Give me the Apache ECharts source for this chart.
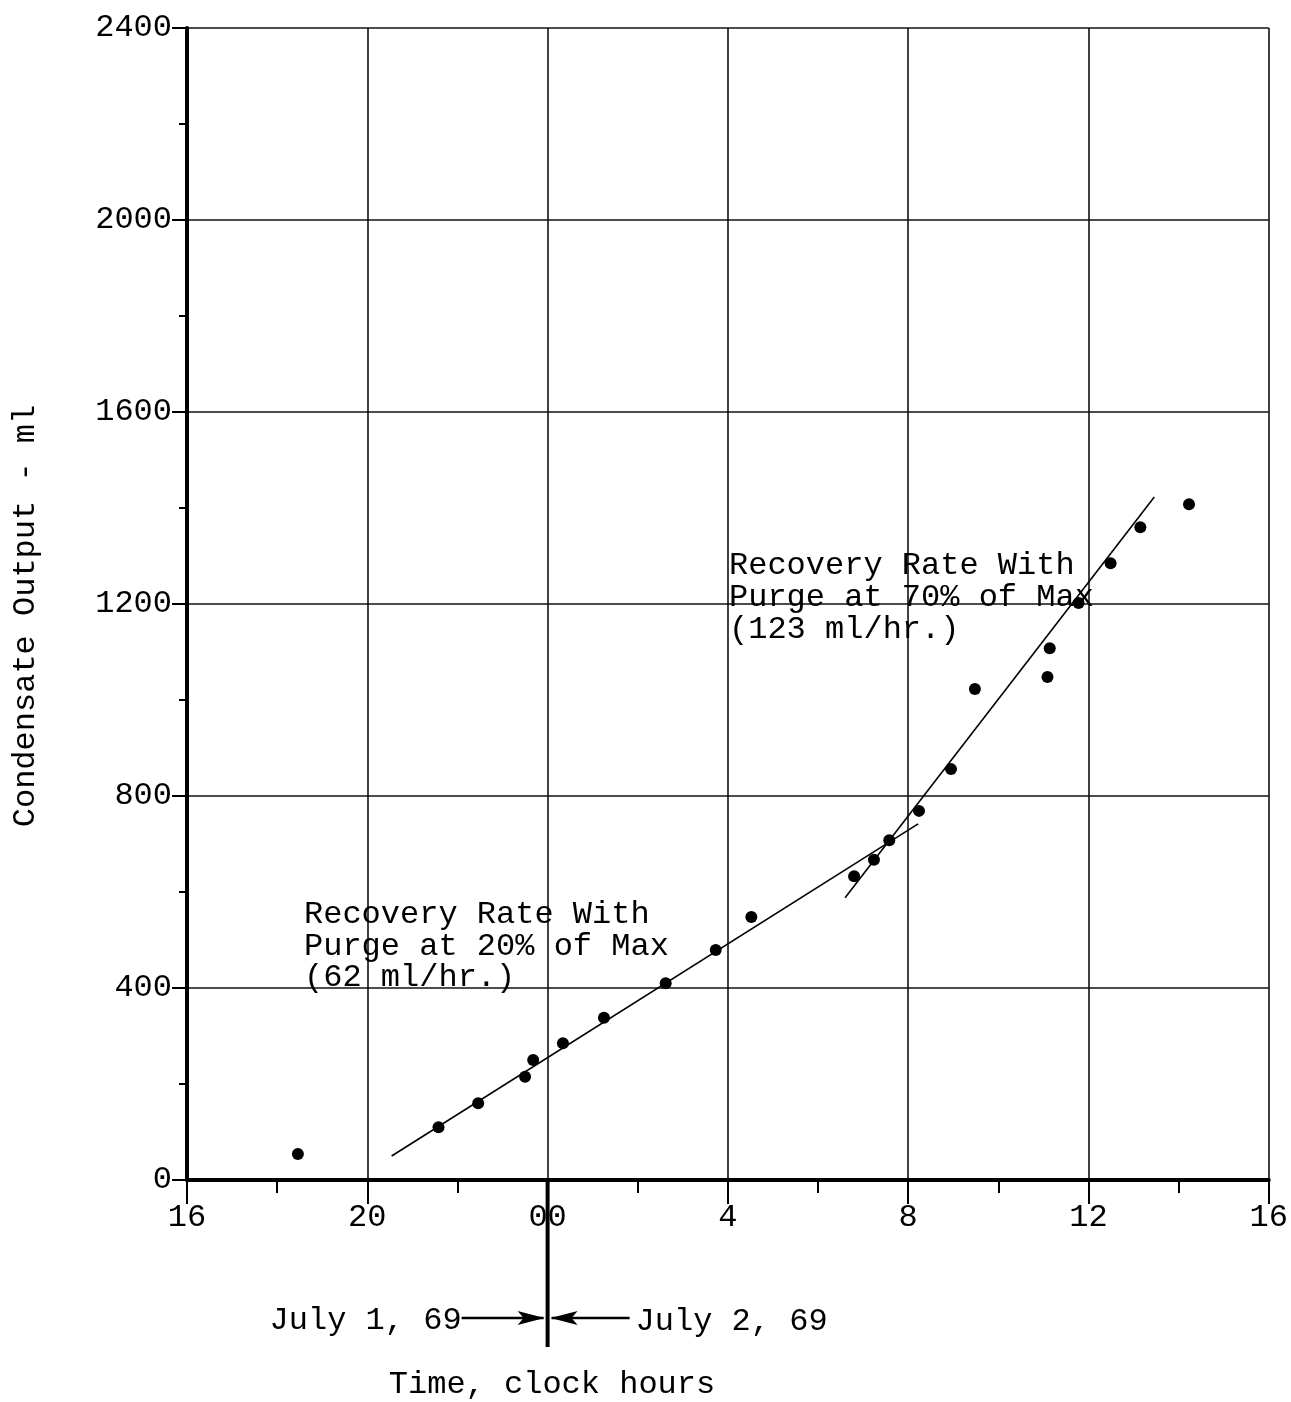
<!DOCTYPE html>
<html>
<head>
<meta charset="utf-8">
<script src="https://cdn.jsdelivr.net/npm/echarts@6/dist/echarts.min.js"></script>
<style>
html,body{margin:0;padding:0;background:#fff;}
#chart{width:1291px;height:1402px;}
</style>
</head>
<body>
<div id="chart"></div>
<script>
// ---- data (x = hours since 00:00 July 1, 1969; y = ml) ----
const hours   = [18.46, 21.58, 22.46, 23.50, 23.68, 24.34, 25.25, 26.62, 27.73, 28.52,
                 30.80, 31.24, 31.58, 32.24, 32.95, 33.48, 35.09, 35.14, 35.78, 36.49, 37.15, 38.23];
const outputs = [54, 110, 160, 215, 250, 285, 338, 410, 479, 548,
                 633, 667, 708, 769, 856, 1023, 1048, 1108, 1202, 1285, 1360, 1408];
const fit20Hours  = [20.54, 32.22];
const fit20Output = [50, 742];
const fit70Hours  = [30.60, 37.46];
const fit70Output = [588, 1423];
const xTickValues = [16, 20, 24, 28, 32, 36, 40];
const xTickLabels = ['16', '20', '00', '4', '8', '12', '16'];
const note20 = ['Recovery Rate With', 'Purge at 20% of Max', '(62 ml/hr.)'];
const note70 = ['Recovery Rate With', 'Purge at 70% of Max', '(123 ml/hr.)'];

const FONT = 'Liberation Mono';
const FS = 32;

const chart = echarts.init(document.getElementById('chart'), null, {renderer: 'canvas'});

const option = {
  animation: false,
  backgroundColor: '#fff',
  grid: {left: 187, top: 28, right: 19, bottom: 222, containLabel: false},
  xAxis: {
    type: 'value', min: 16, max: 40, interval: 4,
    axisLine: {show: true, onZero: false, lineStyle: {color: '#000', width: 4}},
    axisTick: {show: true, length: 24, lineStyle: {color: '#000', width: 2}},
    minorTick: {show: true, splitNumber: 2, length: 13, lineStyle: {color: '#000', width: 2}},
    splitLine: {show: true, lineStyle: {color: '#111', width: 1.6}},
    axisLabel: {
      margin: 22, color: '#000', fontFamily: FONT, fontSize: FS,
      formatter: function (v) {
        const i = xTickValues.indexOf(Math.round(v));
        return i >= 0 ? xTickLabels[i] : '';
      }
    }
  },
  yAxis: {
    type: 'value', min: 0, max: 2400, interval: 400,
    axisLine: {show: true, onZero: false, lineStyle: {color: '#000', width: 4}},
    axisTick: {show: true, length: 15, lineStyle: {color: '#000', width: 2}},
    minorTick: {show: true, splitNumber: 2, length: 8, lineStyle: {color: '#000', width: 2}},
    splitLine: {show: true, lineStyle: {color: '#111', width: 1.6}},
    axisLabel: {margin: 15, color: '#000', fontFamily: FONT, fontSize: FS,
      formatter: function (v) { return String(Math.round(v)); }}
  },
  series: [
    {
      type: 'line', name: 'fit20', data: fit20Hours.map((h, i) => [h, fit20Output[i]]),
      showSymbol: false, symbol: 'none', lineStyle: {color: '#000', width: 1.6}, z: 3
    },
    {
      type: 'line', name: 'fit70', data: fit70Hours.map((h, i) => [h, fit70Output[i]]),
      showSymbol: false, symbol: 'none', lineStyle: {color: '#000', width: 1.6}, z: 3
    },
    {
      type: 'scatter', name: 'output', data: hours.map((h, i) => [h, outputs[i]]),
      symbol: 'circle', symbolSize: 12, itemStyle: {color: '#000', opacity: 1}, z: 4
    }
  ]
};
chart.setOption(option);

// ---- annotations positioned from the axis scale ----
const p0 = chart.convertToPixel({gridIndex: 0}, [24, 0]);   // midnight on the time axis
const xm = p0[0], yb = p0[1];
const txt = (s, x, y, align, extra) => Object.assign({
  type: 'text', x: x, y: y,
  style: {text: s, fill: '#000', font: FS + 'px "' + FONT + '"', align: align || 'left', verticalAlign: 'middle'}
}, extra || {});

const graphics = [];
// notes
note20.forEach((s, i) => graphics.push(txt(s, 304, 915 + i * 31.5)));
note70.forEach((s, i) => graphics.push(txt(s, 729, 566 + i * 32)));
// axis titles
graphics.push(txt('Condensate Output - ml', 26, 616, 'center', {rotation: Math.PI / 2}));
graphics.push(txt('Time, clock hours', 552, 1385, 'center'));
// date divider below the axis at midnight
const ay = yb + 138;
graphics.push({type: 'line', shape: {x1: xm, y1: yb, x2: xm, y2: yb + 167}, style: {stroke: '#000', lineWidth: 4}});
graphics.push({type: 'line', shape: {x1: xm - 86, y1: ay, x2: xm - 4, y2: ay}, style: {stroke: '#000', lineWidth: 2.5}});
graphics.push({type: 'polygon', shape: {points: [[xm - 3, ay], [xm - 30, ay - 7], [xm - 24, ay], [xm - 30, ay + 7]]}, style: {fill: '#000'}});
graphics.push({type: 'line', shape: {x1: xm + 82, y1: ay, x2: xm + 4, y2: ay}, style: {stroke: '#000', lineWidth: 2.5}});
graphics.push({type: 'polygon', shape: {points: [[xm + 3, ay], [xm + 30, ay - 7], [xm + 24, ay], [xm + 30, ay + 7]]}, style: {fill: '#000'}});
graphics.push(txt('July 1, 69', xm - 86, ay + 3, 'right'));
graphics.push(txt('July 2, 69', xm + 88, ay + 4, 'left'));

chart.setOption({graphic: {elements: graphics}});
</script>
</body>
</html>
